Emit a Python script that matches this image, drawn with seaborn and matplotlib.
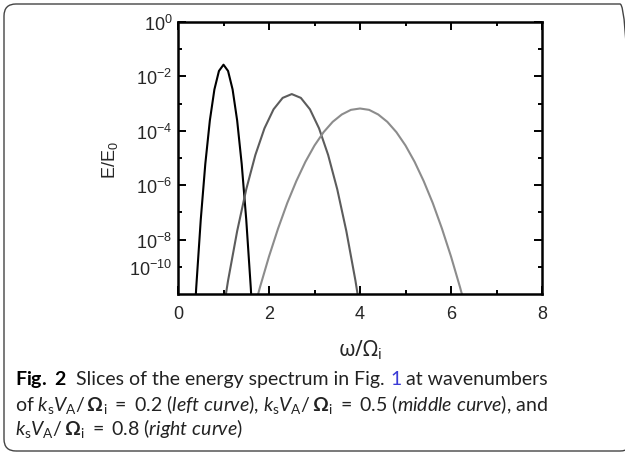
import matplotlib
matplotlib.use("Agg")
import matplotlib.pyplot as plt
import matplotlib.patches as mpatches
from matplotlib.transforms import IdentityTransform
from matplotlib.ticker import FixedLocator, FixedFormatter
import numpy as np
import pandas as pd
import seaborn as sns

# values: omega/Omega_i and log10(E/E0)
omega_left = [0.3, 0.4, 0.5, 0.6, 0.7, 0.8, 0.9, 1.0, 1.1, 1.2, 1.3, 1.4, 1.5, 1.6, 1.7]
logE_left = [-12.74, -9.78, -7.27, -5.22, -3.62, -2.48, -1.80, -1.57,
             -1.80, -2.48, -3.62, -5.22, -7.27, -9.78, -12.74]

omega_mid = [0.9, 1.1, 1.3, 1.5, 1.7, 1.9, 2.1, 2.3, 2.5, 2.7, 2.9, 3.1, 3.3, 3.5, 3.7, 3.9, 4.1]
logE_mid = [-11.61, -9.51, -7.69, -6.15, -4.89, -3.91, -3.21, -2.79, -2.65,
            -2.79, -3.21, -3.91, -4.89, -6.15, -7.69, -9.51, -11.61]

omega_right = [1.6, 1.8, 2.0, 2.2, 2.4, 2.6, 2.8, 3.0, 3.2, 3.4, 3.6, 3.8, 4.0,
               4.2, 4.4, 4.6, 4.8, 5.0, 5.2, 5.4, 5.6, 5.8, 6.0, 6.2, 6.4]
logE_right = [-11.01, -9.76, -8.62, -7.59, -6.66, -5.85, -5.14, -4.54, -4.05, -3.67, -3.40, -3.23, -3.18,
              -3.23, -3.40, -3.67, -4.05, -4.54, -5.14, -5.85, -6.66, -7.59, -8.62, -9.76, -11.01]

curve_names = ["left", "middle", "right"]
curve_colors = ["#000000", "#5c5c5c", "#8c8c8c"]

xticks = [0, 2, 4, 6, 8]
xminor = [1, 3, 5, 7]
ymajor = [1e0, 1e-2, 1e-4, 1e-6, 1e-8]
ymajor_labels = ["0", "-2", "-4", "-6", "-8"]
# the IDL axis puts its last label on the 1e-9 minor tick
yminor = [1e-1, 1e-3, 1e-5, 1e-7, 1e-9]
yminor_labels = ["", "", "", "", "-10"]

frames = []
for name, om, le in zip(curve_names, [omega_left, omega_mid, omega_right],
                        [logE_left, logE_mid, logE_right]):
    frames.append(pd.DataFrame({"omega": om, "E": 10.0 ** np.array(le), "curve": name}))
df = pd.concat(frames, ignore_index=True)

sns.set_style("ticks")
plt.rcParams["font.family"] = ["Liberation Sans", "DejaVu Sans"]
plt.rcParams["mathtext.fontset"] = "custom"
plt.rcParams["mathtext.rm"] = "Lato"
plt.rcParams["mathtext.it"] = "Lato:italic"
plt.rcParams["mathtext.bf"] = "Lato:bold"

W, H = 625, 456
fig = plt.figure(figsize=(W / 100, H / 100), dpi=100)
ax = fig.add_axes([178 / W, 1 - 295 / H, 364 / W, 272 / H])
ax.set_yscale("log")

sns.lineplot(data=df, x="omega", y="E", hue="curve", palette=dict(zip(curve_names, curve_colors)),
             linewidth=1.5, legend=False, ax=ax)

ax.set_xlim(0, 8)
ax.set_ylim(1e-10, 1)
ax.set_xlabel("")
ax.set_ylabel("")

ax.xaxis.set_major_locator(FixedLocator(xticks))
ax.xaxis.set_major_formatter(FixedFormatter([str(v) for v in xticks]))
ax.xaxis.set_minor_locator(FixedLocator(xminor))
ax.yaxis.set_major_locator(FixedLocator(ymajor))
ax.yaxis.set_major_formatter(FixedFormatter([r"$\mathregular{10^{%s}}$" % s for s in ymajor_labels]))
ax.yaxis.set_minor_locator(FixedLocator(yminor))
ax.yaxis.set_minor_formatter(FixedFormatter([r"$\mathregular{10^{%s}}$" % s if s else "" for s in yminor_labels]))

ax.tick_params(which="both", direction="in", top=True, right=True, width=1.4, color="black")
ax.tick_params(which="major", length=5.5)
ax.tick_params(which="minor", length=3)
ax.tick_params(axis="x", which="both", labelsize=13, pad=8)
ax.tick_params(axis="y", which="both", labelsize=13, pad=4)
for sp in ax.spines.values():
    sp.set_linewidth(1.8)
    sp.set_color("black")

fig.text(110 / W, 1 - 160 / H, r"$\mathregular{E/E_0}$", rotation=90, ha="center", va="center", fontsize=13)
fig.text(360 / W, 1 - 350 / H, r"$\mathregular{\omega/\Omega_i}$", ha="center", va="center",
         fontsize=15, family="Noto Sans")

# caption, set piece by piece on a common baseline
cap_size = 14
cap_font = "Lato"
kv = r"$\mathit{k}_{\mathrm{s}}\mathit{V}_{\mathrm{A}}/\,\mathbf{\Omega}_{\mathrm{i}}\ =\ $"
caption_lines = [
    [(r"$\mathbf{Fig.\ 2}$", "#000000", 0), ("Slices of the energy spectrum in Fig.", "#222222", 2),
     ("1", "#3b3bd6", 1), ("at wavenumbers", "#222222", 1)],
    [("of " + kv + r"0.2 ($\mathit{left\ curve}$), " + kv + r"0.5 ($\mathit{middle\ curve}$), and",
      "#222222", 0)],
    [(kv + r"0.8 ($\mathit{right\ curve}$)", "#222222", 0)],
]
caption_baselines = [385, 411, 435]

renderer = fig.canvas.get_renderer()
probe = fig.text(0, 0, "n n", fontsize=cap_size, family=cap_font)
probe2 = fig.text(0, 0, "nn", fontsize=cap_size, family=cap_font)
space_px = probe.get_window_extent(renderer).width - probe2.get_window_extent(renderer).width
probe.remove()
probe2.remove()

for line, base in zip(caption_lines, caption_baselines):
    x = 15.0
    for txt, col, gap in line:
        x += gap * space_px
        t = fig.text(x / W, 1 - base / H, txt, fontsize=cap_size, family=cap_font, color=col,
                     ha="left", va="baseline")
        x += t.get_window_extent(renderer).width

border = mpatches.FancyBboxPatch((4, 4), 628, 447, boxstyle="round,pad=0,rounding_size=12",
                                 transform=IdentityTransform(), fill=False, ec="#444444", lw=1.0,
                                 clip_on=False)
fig.add_artist(border)

fig.savefig("out.png", dpi=100)
